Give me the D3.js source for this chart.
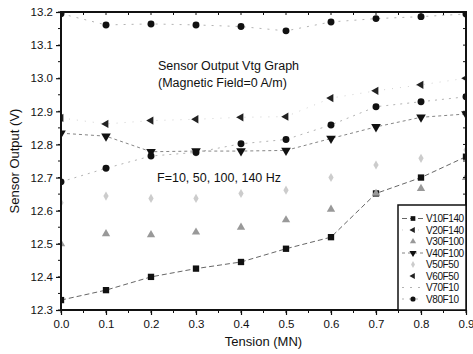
<!DOCTYPE html>
<html lang="en">
    <head>
        <meta charset="utf-8">
        <title>Sensor Output Vtg Graph</title>
        <script type="text/javascript" src="https://cdn.jsdelivr.net/npm/d3@7/dist/d3.min.js"></script>
        <style>
            body { margin: 0; background: #fff; }
            text { font-family: "Liberation Sans", Arial, sans-serif; fill: #111; }
        </style>
    </head>
    <body>
        <script type="text/javascript">
            // tension values (MN)
            var tension = [0.0, 0.1, 0.2, 0.3, 0.4, 0.5, 0.6, 0.7, 0.8, 0.9];
            var xTicks = ["0.0", "0.1", "0.2", "0.3", "0.4", "0.5", "0.6", "0.7", "0.8", "0.9"];
            var yTicks = [12.3, 12.4, 12.5, 12.6, 12.7, 12.8, 12.9, 13.0, 13.1, 13.2];

            // sensor output (V) per series
            var V10F140 = [12.33, 12.36, 12.40, 12.425, 12.445, 12.485, 12.52, 12.652, 12.70, 12.763];
            var V20F140 = [12.88, 12.862, 12.872, 12.876, 12.882, 12.884, 12.94, 12.962, 12.98, 13.0];
            var V30F100 = [12.50, 12.53, 12.527, 12.535, 12.55, 12.572, 12.604, 12.652, 12.667, 12.70];
            var V40F100 = [12.834, 12.825, 12.778, 12.78, 12.78, 12.782, 12.818, 12.853, 12.882, 12.892];
            var V50F50  = [12.624, 12.644, 12.637, 12.637, 12.652, 12.662, 12.70, 12.738, 12.758, 12.783];
            var V60F50  = [];
            var V70F10  = [13.195, 13.161, 13.164, 13.161, 13.156, 13.143, 13.17, 13.18, 13.186, 13.194];
            var V80F10  = [12.687, 12.728, 12.765, 12.776, 12.802, 12.815, 12.859, 12.914, 12.929, 12.944];

            var seriesNames = ["V10F140", "V20F140", "V30F100", "V40F100", "V50F50", "V60F50", "V70F10", "V80F10"];
            var seriesValues = [V10F140, V20F140, V30F100, V40F100, V50F50, V60F50, V70F10, V80F10];

            // look of each series
            var styles = {
                V10F140: {sym: d3.symbolSquare, size: 40, rot: 0, fill: "#111", line: "#555", dash: "5,3", lw: 0.9},
                V20F140: {sym: d3.symbolTriangle, size: 30, rot: -90, fill: "#222", line: "#ccc", dash: "1,7", lw: 0.9},
                V30F100: {sym: d3.symbolTriangle, size: 30, rot: 0, fill: "#999", line: null},
                V40F100: {sym: d3.symbolTriangle, size: 40, rot: 180, fill: "#111", line: "#666", dash: "3,3", lw: 0.8},
                V50F50:  {sym: d3.symbolDiamond, size: 24, rot: 0, fill: "#ccc", line: null},
                V60F50:  {sym: d3.symbolTriangle, size: 30, rot: -90, fill: "#222", line: null},
                V70F10:  {sym: d3.symbolCircle, size: 38, rot: 0, fill: "#111", line: "#aaa", dash: "2,6", lw: 0.9},
                V80F10:  {sym: d3.symbolCircle, size: 38, rot: 0, fill: "#111", line: "#aaa", dash: "2,5", lw: 0.9}
            };

            var w = 473, h = 354;
            var mLeft = 61, mRight = 466, mTop = 12, mBottom = 310;

            var svg = d3.select("body").append("svg")
                .attr("width", w)
                .attr("height", h);

            var x = d3.scaleLinear().domain([0, 0.9]).range([mLeft, mRight]);
            var y = d3.scaleLinear().domain([12.3, 13.2]).range([mBottom, mTop]);

            svg.append("clipPath").attr("id", "plotclip")
              .append("rect")
                .attr("x", mLeft).attr("y", mTop)
                .attr("width", mRight - mLeft).attr("height", mBottom - mTop);

            var plot = svg.append("g").attr("clip-path", "url(#plotclip)");

            var line = d3.line()
                .x(function(d) { return x(d[0]); })
                .y(function(d) { return y(d[1]); });

            seriesNames.forEach(function(name, k) {
                var st = styles[name];
                var pts = seriesValues[k].map(function(v, i) { return [tension[i], v]; });
                if (st.line && pts.length) {
                    plot.append("path")
                        .datum(pts)
                        .attr("d", line)
                        .attr("fill", "none")
                        .attr("stroke", st.line)
                        .attr("stroke-width", st.lw)
                        .attr("stroke-dasharray", st.dash);
                }
                plot.selectAll(null)
                    .data(pts)
                  .enter().append("path")
                    .attr("d", d3.symbol().type(st.sym).size(st.size))
                    .attr("transform", function(d) {
                        return "translate(" + x(d[0]) + "," + y(d[1]) + ") rotate(" + st.rot + ")";
                    })
                    .attr("fill", st.fill);
            });

            // axes
            var xAxis = d3.axisBottom(x)
                .tickValues(tension)
                .tickFormat(function(d, i) { return xTicks[i]; })
                .tickSize(5).tickPadding(5);
            var yAxis = d3.axisLeft(y)
                .tickValues(yTicks)
                .tickFormat(d3.format(".1f"))
                .tickSize(5).tickPadding(3);

            var xMinor = d3.range(0, 19).map(function(i) { return i * 0.05; });
            var yMinor = d3.range(0, 19).map(function(i) { return 12.3 + i * 0.05; });

            var gx = svg.append("g").attr("transform", "translate(0," + mBottom + ")").call(xAxis);
            var gy = svg.append("g").attr("transform", "translate(" + mLeft + ",0)").call(yAxis);
            [gx, gy].forEach(function(g) {
                g.select(".domain").remove();
                g.selectAll("line").attr("stroke", "#111").attr("stroke-width", 1.2);
                g.selectAll("text").attr("font-size", "11.5px").attr("fill", "#111");
            });

            // minor ticks, bottom/left outward, top/right inward
            svg.append("g").selectAll("line").data(xMinor).enter().append("line")
                .attr("x1", function(d) { return x(d); }).attr("x2", function(d) { return x(d); })
                .attr("y1", mBottom).attr("y2", mBottom + 3)
                .attr("stroke", "#111");
            svg.append("g").selectAll("line").data(xMinor).enter().append("line")
                .attr("x1", function(d) { return x(d); }).attr("x2", function(d) { return x(d); })
                .attr("y1", mTop).attr("y2", mTop + 3)
                .attr("stroke", "#111");
            svg.append("g").selectAll("line").data(yMinor).enter().append("line")
                .attr("x1", mLeft - 3).attr("x2", mLeft)
                .attr("y1", function(d) { return y(d); }).attr("y2", function(d) { return y(d); })
                .attr("stroke", "#111");
            svg.append("g").selectAll("line").data(yMinor).enter().append("line")
                .attr("x1", mRight - 3).attr("x2", mRight)
                .attr("y1", function(d) { return y(d); }).attr("y2", function(d) { return y(d); })
                .attr("stroke", "#111");

            // frame
            svg.append("rect")
                .attr("x", mLeft).attr("y", mTop)
                .attr("width", mRight - mLeft).attr("height", mBottom - mTop)
                .attr("fill", "none")
                .attr("stroke", "#111")
                .attr("stroke-width", 2);

            // axis titles
            svg.append("text")
                .attr("x", (mLeft + mRight) / 2).attr("y", 346)
                .attr("text-anchor", "middle")
                .attr("font-size", "13px")
                .text("Tension (MN)");
            svg.append("text")
                .attr("transform", "translate(19," + ((mTop + mBottom) / 2) + ") rotate(-90)")
                .attr("text-anchor", "middle")
                .attr("font-size", "13px")
                .text("Sensor Output (V)");

            // annotations
            svg.append("text").attr("x", 158).attr("y", 70).attr("font-size", "12.5px")
                .text("Sensor Output Vtg Graph");
            svg.append("text").attr("x", 158).attr("y", 87).attr("font-size", "12.5px")
                .text("(Magnetic Field=0 A/m)");
            svg.append("text").attr("x", 157).attr("y", 182).attr("font-size", "12.5px")
                .text("F=10, 50, 100, 140 Hz");

            // legend
            var lg = svg.append("g");
            lg.append("rect")
                .attr("x", 398).attr("y", 205)
                .attr("width", mRight - 398).attr("height", mBottom - 205)
                .attr("fill", "#fff")
                .attr("stroke", "#111")
                .attr("stroke-width", 1.5);

            var row = lg.selectAll("g.row")
                .data(seriesNames)
              .enter().append("g")
                .attr("class", "row")
                .attr("transform", function(d, i) { return "translate(0," + (218.5 + i * 11.5) + ")"; });

            row.each(function(name) {
                var st = styles[name];
                var g = d3.select(this);
                if (st.line) {
                    g.append("line")
                        .attr("x1", 402).attr("x2", 423)
                        .attr("stroke", st.line)
                        .attr("stroke-width", st.lw)
                        .attr("stroke-dasharray", st.dash);
                }
                if (name !== "V70F10") {
                    g.append("path")
                        .attr("d", d3.symbol().type(st.sym).size(st.size * 0.55))
                        .attr("transform", "translate(413,0) rotate(" + st.rot + ")")
                        .attr("fill", st.fill);
                }
                g.append("text")
                    .attr("x", 426).attr("dy", "0.35em")
                    .attr("font-size", "10px")
                    .attr("letter-spacing", "-0.4px")
                    .text(name);
            });
        </script>
    </body>
</html>
